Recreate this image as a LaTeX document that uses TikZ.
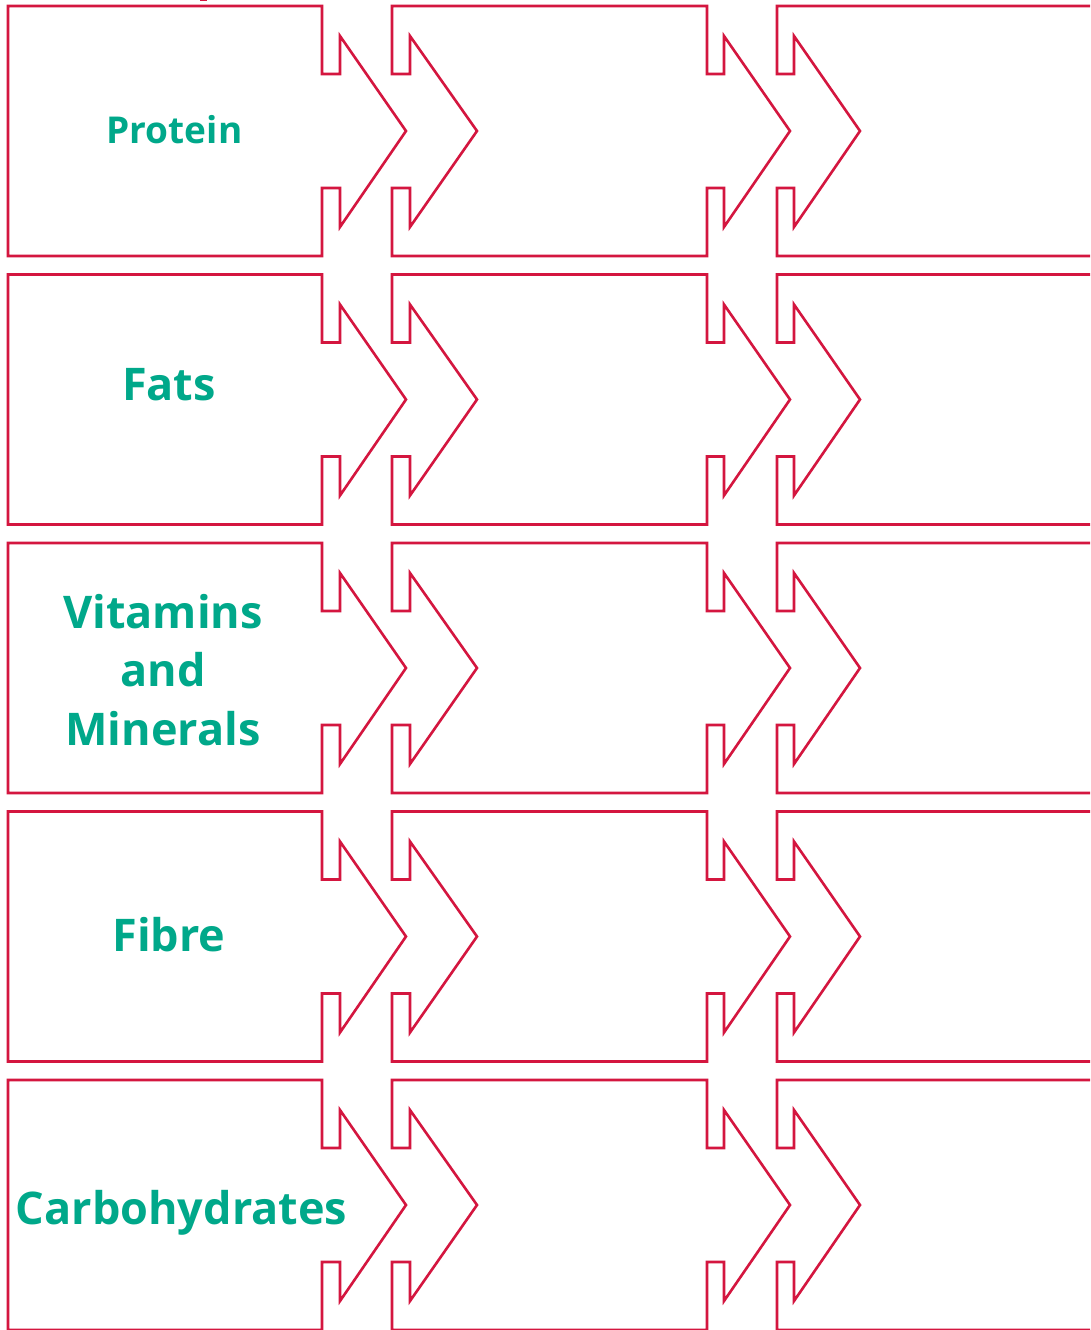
\documentclass[tikz,border=0pt]{standalone}
\usepackage{fontspec}
\setmainfont{Open Sans}
\definecolor{boxred}{HTML}{D4163F}
\definecolor{labteal}{HTML}{00A88A}
\begin{document}
\begin{tikzpicture}[x=1pt,y=-1pt,
  arrowbox/.style={draw=boxred,line width=2.6pt,line join=miter},
  biglabel/.style={text=labteal,font=\bfseries\fontsize{45}{58.5}\selectfont,align=center,inner sep=0pt},
  smalllabel/.style={text=labteal,font=\bfseries\fontsize{37}{44}\selectfont,align=center,inner sep=0pt}]
\useasboundingbox (0,0) rectangle (1090,1330);
\clip (0,0) rectangle (1090,1330);
\fill[white] (0,0) rectangle (1090,1330);
\foreach \oy in {6,274.5,543,811.5,1080}{
  \begin{scope}[yshift=-\oy pt]
  % first column: box with arrow on the right
  \draw[arrowbox] (8,0) -- (322,0) -- (322,68) -- (340,68) -- (340,30) -- (406,125)
     -- (340,221) -- (340,182) -- (322,182) -- (322,250) -- (8,250) -- cycle;
  % second column: notched left side, arrow on the right
  \draw[arrowbox] (392,0) -- (707,0) -- (707,68) -- (724,68) -- (724,30) -- (790,125)
     -- (724,221) -- (724,182) -- (707,182) -- (707,250) -- (392,250) -- (392,182)
     -- (410,182) -- (410,221) -- (477,125) -- (410,30) -- (410,68) -- (392,68) -- cycle;
  % third column: notched left side, runs off to the right
  \draw[arrowbox] (1120,0) -- (777,0) -- (777,68) -- (794,68) -- (794,30) -- (860,125)
     -- (794,221) -- (794,182) -- (777,182) -- (777,250) -- (1120,250);
  \end{scope}
}
\fill[boxred] (200,0) rectangle (207,1.5);
\node[smalllabel] (protein) at (174.5,130) {Protein};
\node[biglabel] (fats) at (169,385) {Fats};
\node[biglabel] (vitamins) at (163,670) {Vitamins\\and\\Minerals};
\node[biglabel] (fibre) at (169,935) {Fibre};
\node[biglabel] (carbs) at (181.5,1213) {Carbohydrates};
\end{tikzpicture}
\end{document}
